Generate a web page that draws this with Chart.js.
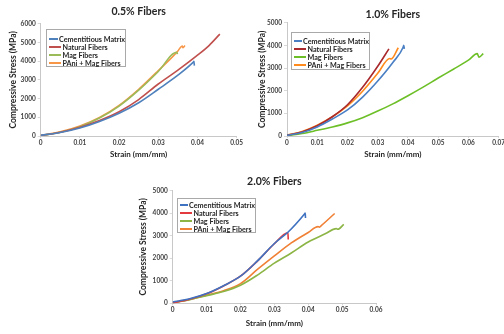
<!DOCTYPE html>
<html>
<head>
<meta charset="utf-8">
<script src="https://cdn.jsdelivr.net/npm/chart.js@4.4.1/dist/chart.umd.min.js"></script>
<style>
    body { margin: 0; background: #fff; width: 504px; height: 334px; overflow: hidden; position: relative; }
    canvas { position: absolute; }
    .legend { position: absolute; box-sizing: border-box; border: 1px solid #a9a9a9; background: #fff;
              font: bold 7.2px Lato, sans-serif; color: #262626; z-index: 2; }
    .legend .row { display: flex; align-items: center; height: 8.1px; white-space: nowrap; }
    .legend .swatch { display: inline-block; width: 12px; height: 2px; margin: 0 1.5px 0 2px; }
</style>
</head>
<body>
<canvas id="c05" width="250" height="165" style="left:0;top:0"></canvas>
<canvas id="c10" width="252" height="165" style="left:252px;top:0"></canvas>
<canvas id="c20" width="264" height="169" style="left:120px;top:165px"></canvas>

<script>
var seriesNames = ['Cementitious Matrix', 'Natural Fibers', 'Mag Fibers', 'PAni + Mag Fibers'];
var chartTitles = ['0.5% Fibers', '1.0% Fibers', '2.0% Fibers'];
var xAxisTitle = 'Strain (mm/mm)';
var yAxisTitle = 'Compressive Stress (MPa)';

// 0.5% fibers
var strain05Cement = [0, 0.005, 0.01, 0.015, 0.02, 0.025, 0.03, 0.035, 0.0388, 0.0391, 0.0392];
var stress05Cement = [40, 190, 430, 780, 1220, 1780, 2500, 3250, 3920, 3990, 3760];
var strain05Natural = [0, 0.005, 0.01, 0.015, 0.02, 0.025, 0.03, 0.035, 0.04, 0.043, 0.0457];
var stress05Natural = [20, 200, 470, 830, 1300, 1950, 2780, 3520, 4320, 4850, 5450];
var strain05Mag = [0, 0.005, 0.01, 0.015, 0.02, 0.025, 0.03, 0.0347, 0.0349];
var stress05Mag = [20, 200, 500, 960, 1600, 2450, 3450, 4480, 4380];
var strain05PAni = [0, 0.005, 0.01, 0.015, 0.02, 0.025, 0.03, 0.035, 0.0356, 0.0361, 0.0363, 0.0368];
var stress05PAni = [30, 220, 530, 990, 1640, 2500, 3500, 4550, 4720, 4810, 4720, 4840];

// 1.0% fibers
var strain10Cement = [0, 0.005, 0.01, 0.015, 0.02, 0.025, 0.03, 0.035, 0.0384, 0.0386, 0.0388];
var stress10Cement = [30, 150, 400, 750, 1150, 1720, 2430, 3250, 3920, 4010, 3850];
var strain10Natural = [0, 0.005, 0.01, 0.015, 0.02, 0.025, 0.03, 0.0337];
var stress10Natural = [30, 180, 450, 850, 1380, 2150, 3080, 3850];
var strain10Mag = [0, 0.005, 0.01, 0.015, 0.02, 0.025, 0.03, 0.035, 0.04, 0.045, 0.05, 0.055, 0.06, 0.0629, 0.0635, 0.0649];
var stress10Mag = [20, 110, 250, 400, 580, 810, 1100, 1420, 1780, 2160, 2560, 2950, 3350, 3640, 3480, 3640];
var strain10PAni = [0, 0.005, 0.01, 0.015, 0.02, 0.025, 0.03, 0.034, 0.0344, 0.0368];
var stress10PAni = [40, 200, 480, 850, 1330, 1980, 2770, 3420, 3400, 3900];

// 2.0% fibers
var strain20Cement = [0, 0.005, 0.01, 0.015, 0.02, 0.025, 0.03, 0.034, 0.0389, 0.0391, 0.0392];
var stress20Cement = [60, 200, 430, 780, 1200, 1880, 2650, 3150, 3960, 4000, 3780];
var strain20Natural = [0, 0.005, 0.01, 0.015, 0.02, 0.025, 0.03, 0.034, 0.0341];
var stress20Natural = [20, 180, 420, 770, 1200, 1870, 2640, 3130, 2830];
var strain20Mag = [0, 0.005, 0.01, 0.015, 0.02, 0.025, 0.03, 0.035, 0.04, 0.045, 0.0483, 0.0487, 0.0505];
var stress20Mag = [20, 160, 340, 520, 800, 1250, 1780, 2230, 2720, 3080, 3310, 3280, 3500];
var strain20PAni = [0, 0.005, 0.01, 0.015, 0.02, 0.025, 0.03, 0.035, 0.04, 0.0429, 0.0433, 0.0437, 0.0478];
var stress20PAni = [30, 170, 360, 560, 870, 1500, 2100, 2680, 3140, 3400, 3370, 3420, 3980];

function zip(xs, ys) {
    return xs.map(function (x, i) { return { x: x, y: ys[i] }; });
}

function buildChart(cfg) {
    var datasets = cfg.series.map(function (s, i) {
        return {
            label: seriesNames[i],
            data: zip(s[0], s[1]),
            borderColor: cfg.colors[i],
            backgroundColor: cfg.colors[i],
            borderWidth: 1.6,
            pointRadius: 0,
            showLine: true,
            cubicInterpolationMode: 'monotone'
        };
    });
    new Chart(document.getElementById(cfg.id), {
        type: 'scatter',
        data: { datasets: datasets },
        options: {
            responsive: false,
            animation: false,
            events: [],
            layout: { padding: { left: 0, right: cfg.padRight, top: 0, bottom: 0 } },
            plugins: {
                legend: { display: false },
                tooltip: { enabled: false },
                title: {
                    display: true,
                    fullSize: false,
                    text: cfg.title,
                    color: '#262626',
                    font: { family: 'Lato', size: 10.5, weight: 'bold', lineHeight: 1.2 },
                    padding: { top: cfg.titleTop - 0.8, bottom: cfg.titleBottom - 0.8 }
                }
            },
            scales: {
                x: {
                    type: 'linear',
                    min: 0, max: cfg.xMax,
                    ticks: {
                        stepSize: 0.01,
                        padding: 1,
                        color: '#404040',
                        font: { family: 'Lato', size: 6.5, weight: 'bold' },
                        callback: function (v) { return v === 0 ? '0' : v.toFixed(2); }
                    },
                    grid: { drawOnChartArea: false, tickLength: 2, color: '#d9d9d9' },
                    border: { color: '#c8c8c8' },
                    title: {
                        display: true, text: xAxisTitle, color: '#262626',
                        font: { family: 'Lato', size: 8, weight: 'bold', lineHeight: 1.2 },
                        padding: { top: 0, bottom: cfg.xTitleBottom }
                    },
                    afterFit: function (scale) {
                        scale.height = cfg.xHeight;
                        scale.paddingLeft = 0;
                        scale.paddingRight = 0;
                    }
                },
                y: {
                    type: 'linear',
                    min: 0, max: cfg.yMax,
                    ticks: {
                        stepSize: 1000,
                        padding: 2,
                        color: '#404040',
                        font: { family: 'Lato', size: 6.5, weight: 'bold' },
                        callback: function (v) { return String(v); }
                    },
                    grid: { drawOnChartArea: false, tickLength: 3, color: '#d9d9d9' },
                    border: { color: '#c8c8c8' },
                    title: {
                        display: true, text: yAxisTitle, color: '#262626',
                        font: { family: 'Lato', size: 8.5, weight: 'bold', lineHeight: 1.2 },
                        padding: { top: cfg.yTitleTop, bottom: 0 }
                    },
                    afterFit: function (scale) {
                        scale.width = cfg.yWidth;
                        scale.paddingTop = 0;
                        scale.paddingBottom = 0;
                    }
                }
            }
        }
    });

    // legend box inside the plot, as in the original
    var box = document.createElement('div');
    box.className = 'legend';
    box.style.left = cfg.legend.left + 'px';
    box.style.top = cfg.legend.top + 'px';
    box.style.width = cfg.legend.width + 'px';
    box.style.height = cfg.legend.height + 'px';
    box.style.paddingTop = cfg.legend.padTop + 'px';
    seriesNames.forEach(function (name, i) {
        var row = document.createElement('div');
        row.className = 'row';
        var sw = document.createElement('span');
        sw.className = 'swatch';
        sw.style.background = cfg.colors[i];
        row.appendChild(sw);
        row.appendChild(document.createTextNode(name));
        box.appendChild(row);
    });
    document.body.appendChild(box);
}

buildChart({
    id: 'c05', title: chartTitles[0], xMax: 0.05, yMax: 6000,
    colors: ['#4f81bd', '#c0504d', '#9bbb59', '#f79646'],
    series: [[strain05Cement, stress05Cement], [strain05Natural, stress05Natural],
             [strain05Mag, stress05Mag], [strain05PAni, stress05PAni]],
    padRight: 13.3, titleTop: 6.1, titleBottom: 6.7,
    yWidth: 40.7, yTitleTop: 8.2, xHeight: 29, xTitleBottom: 5.8,
    legend: { left: 46, top: 29, width: 80, height: 38, padTop: 5 }
});

buildChart({
    id: 'c10', title: chartTitles[1], xMax: 0.07, yMax: 5000,
    colors: ['#4a7fc4', '#a8282c', '#6cbf26', '#ff8a1e'],
    series: [[strain10Cement, stress10Cement], [strain10Natural, stress10Natural],
             [strain10Mag, stress10Mag], [strain10PAni, stress10PAni]],
    padRight: 5.3, titleTop: 9.4, titleBottom: 2.4,
    yWidth: 35, yTitleTop: 4.9, xHeight: 29, xTitleBottom: 5.9,
    legend: { left: 291, top: 32, width: 79, height: 38, padTop: 4 }
});

buildChart({
    id: 'c20', title: chartTitles[2], xMax: 0.06, yMax: 5000,
    colors: ['#3f72c0', '#e23a3e', '#8cb545', '#f08035'],
    series: [[strain20Cement, stress20Cement], [strain20Natural, stress20Natural],
             [strain20Mag, stress20Mag], [strain20PAni, stress20PAni]],
    padRight: 8, titleTop: 11.1, titleBottom: 3.4,
    yWidth: 52.7, yTitleTop: 18.2, xHeight: 30.7, xTitleBottom: 6,
    legend: { left: 177, top: 198, width: 79, height: 35, padTop: 2 }
});
</script>
</body>
</html>
